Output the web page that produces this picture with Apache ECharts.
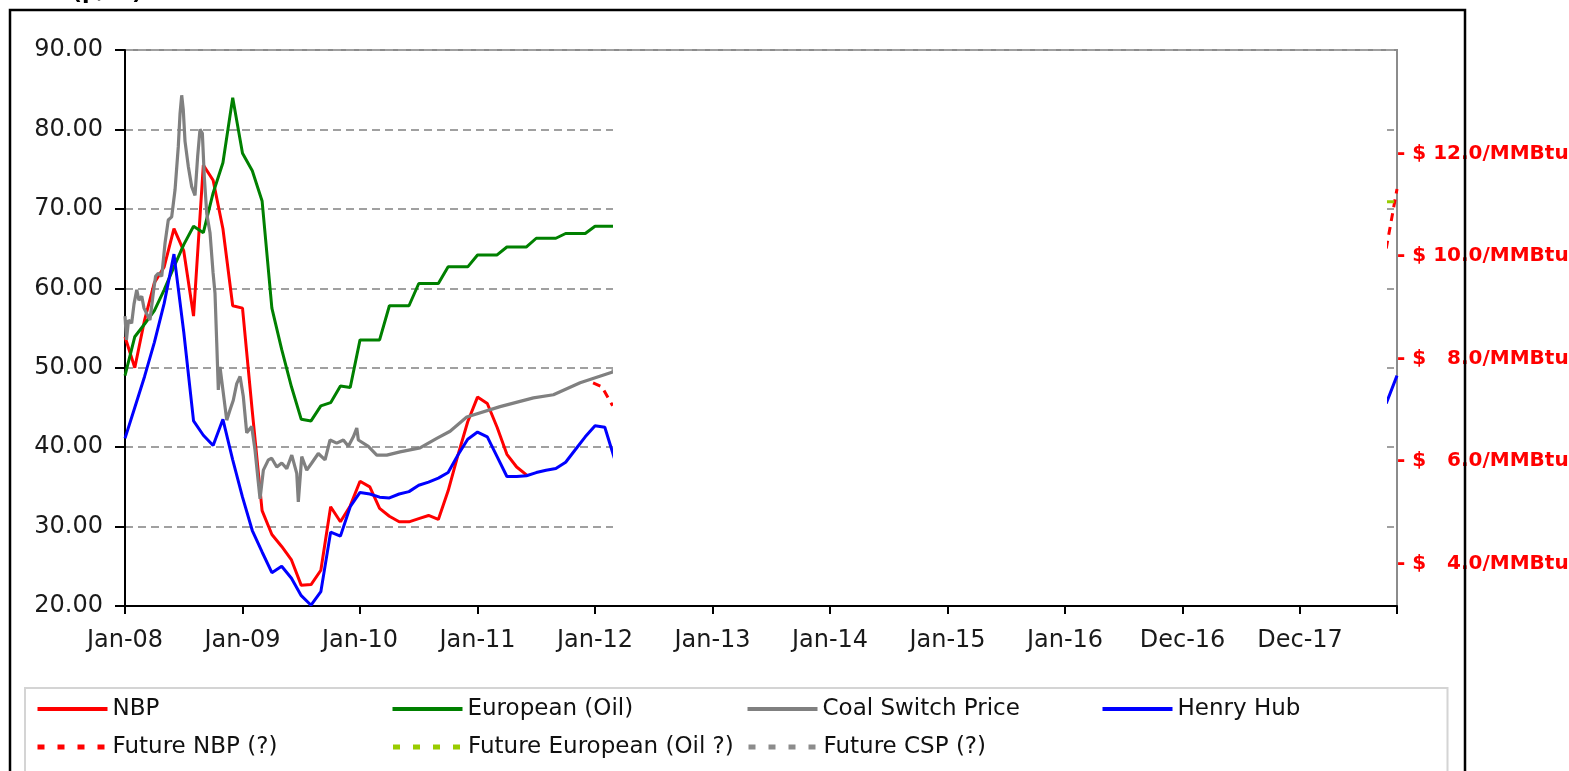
<!DOCTYPE html>
<html>
<head>
<meta charset="utf-8">
<script src="https://cdn.jsdelivr.net/npm/echarts@6/dist/echarts.min.js"></script>
<style>
html,body{margin:0;padding:0;background:#fff;}
#c{width:1569px;height:771px;}
</style>
</head>
<body>
<div id="c"></div>
<script>
// ---------- data (months counted from Jan-08 = 0) ----------
const xTickLabels = ['Jan-08','Jan-09','Jan-10','Jan-11','Jan-12','Jan-13','Jan-14','Jan-15','Jan-16','Dec-16','Dec-17'];
const leftAxisMin = 20, leftAxisMax = 90, leftAxisStep = 10;
const rightTickValues = [4, 6, 8, 10, 12];
const rightAxisMin = 3.17, rightAxisMax = 14.02;
const xMaxMonth = 129.9;

const legendNames = ['NBP','European (Oil)','Coal Switch Price','Henry Hub','Future NBP (?)','Future European (Oil ?)','Future CSP (?)'];

const nbpValues = [53.9,50.0,56.0,60.7,62.7,67.5,64.7,56.5,75.5,73.6,67.5,57.8,57.5,44.5,32.0,29.0,27.5,25.8,22.6,22.7,24.5,32.5,30.6,32.6,35.7,35.0,32.3,31.3,30.6,30.6,31.0,31.4,30.9,34.5,39.0,43.2,46.3,45.5,42.5,39.1,37.5,36.5];

const europeanValues = [49.0,53.9,55.5,57.2,59.8,62.7,65.5,67.8,67.0,72.0,75.8,84.0,77.0,74.8,71.0,57.5,52.3,47.6,43.5,43.3,45.2,45.6,47.7,47.5,53.5,53.5,53.5,57.8,57.8,57.8,60.6,60.6,60.6,62.7,62.7,62.7,64.2,64.2,64.2,65.2,65.2,65.2,66.3,66.3,66.3,66.9,66.9,66.9,67.8,67.8,67.8];

const henryHubValues = [41.1,45.0,48.9,53.2,58.1,64.3,54.5,43.3,41.5,40.2,43.5,38.4,33.7,29.5,26.8,24.2,25.0,23.5,21.3,20.1,21.8,29.3,28.8,32.5,34.3,34.1,33.7,33.6,34.1,34.4,35.2,35.6,36.1,36.8,39.0,41.0,41.9,41.3,38.8,36.3,36.3,36.4,36.8,37.1,37.3,38.1,39.7,41.3,42.7,42.5,38.5];
const henryHubTailMonths = [128.8, 129.9];
const henryHubTailValues = [45.5, 49.0];

const coalMonths = [0,0.15,0.36,0.68,0.92,1.2,1.42,1.71,1.94,2.22,2.55,2.89,3.12,3.4,3.75,4.09,4.42,4.77,5.11,5.44,5.62,5.79,5.95,6.13,6.47,6.81,7.15,7.42,7.66,7.9,8.1,8.35,8.68,8.99,9.19,9.37,9.53,9.7,10.04,10.39,10.73,11.06,11.41,11.75,12.08,12.43,12.94,13.28,13.62,13.79,14.13,14.64,14.98,15.5,16.01,16.52,17.03,17.54,17.7,18.05,18.56,19.07,19.74,20.43,20.94,21.62,22.3,22.81,23.32,23.67,23.83,24.85,25.71,26.73,28.09,30.13,31.84,33.2,34.9,38.3,41.71,43.75,46.48,49.88];
const coalValues = [56.5,53.5,56.0,55.6,58.0,59.8,58.5,59.0,57.5,56.8,56.0,59.4,61.5,61.9,61.5,65.7,68.6,69.0,72.4,77.8,82.0,84.3,82.5,78.5,75.3,72.8,71.7,76.6,80.0,79.5,74.0,69.4,67.0,62.0,59.4,53.1,47.2,50.1,46.8,43.4,44.7,45.9,48.0,48.9,46.4,41.8,42.6,39.6,35.5,33.5,37.1,38.4,38.6,37.5,38.0,37.3,39.0,36.7,33.1,38.8,37.1,38.0,39.2,38.4,40.9,40.5,40.9,40.1,41.3,42.4,40.9,40.1,39.0,39.0,39.4,39.9,41.1,42.0,43.8,45.1,46.2,46.6,48.1,49.5];

const futureNbpMonths = [47.8, 48.7, 49.8, null, 128.8, 129.9];
const futureNbpValues = [48.1, 47.6, 45.2, null, 65.0, 72.5];
const futureEuropeanMonths = [128.8, 129.9];
const futureEuropeanValues = [70.9, 70.9];
const futureCspMonths = [49.7, 51.0];
const futureCspValues = [49.6, 50.0];

// ---------- helpers ----------
function monthly(vals) { return vals.map((v, i) => [i, v]); }
function pairs(ms, vs) { return ms.map((m, i) => (m == null ? '-' : [m, vs[i]])); }

const FONT = 'DejaVu Sans';
const chart = echarts.init(document.getElementById('c'), null, {renderer: 'canvas'});

function lineSeries(name, data, color, type, z, width) {
  return {
    name: name, type: 'line', data: data, symbol: 'none', showSymbol: false,
    xAxisIndex: 0, yAxisIndex: 0, z: z, animation: false, connectNulls: false,
    lineStyle: {color: color, width: width || 3, type: type},
    itemStyle: {color: color}
  };
}

const hiddenSymbol = {opacity: 0, color: 'rgba(0,0,0,0)', borderWidth: 0};

const option = {
  animation: false,
  backgroundColor: '#ffffff',
  grid: {
    left: 125, right: 172, top: 50, bottom: 165,
    show: true, borderColor: '#8c8c8c', borderWidth: 2, backgroundColor: 'transparent',
    containLabel: false, outerBoundsMode: 'none'
  },
  xAxis: {
    type: 'value', min: 0, max: xMaxMonth, interval: 12,
    axisLine: {show: true, lineStyle: {color: '#000', width: 2}},
    axisTick: {show: true, inside: false, length: 8, lineStyle: {color: '#000', width: 2}},
    splitLine: {show: false},
    axisLabel: {
      show: true, margin: 23, fontSize: 24, fontFamily: FONT, color: '#1a1a1a',
      hideOverlap: false,
      formatter: function (v) {
        const i = v / 12;
        return (Number.isInteger(i) && i < xTickLabels.length) ? xTickLabels[i] : '';
      }
    }
  },
  yAxis: [
    {
      type: 'value', position: 'left', min: leftAxisMin, max: leftAxisMax, interval: leftAxisStep,
      axisLine: {show: true, lineStyle: {color: '#000', width: 2}},
      axisTick: {show: true, inside: false, length: 10, lineStyle: {color: '#000', width: 2}},
      splitLine: {show: true, lineStyle: {color: '#a0a0a0', width: 2, type: [8, 5]}},
      axisLabel: {
        margin: 22, fontSize: 24, fontFamily: FONT, color: '#1a1a1a',
        formatter: function (v) { return v.toFixed(2); }
      }
    },
    {
      type: 'value', position: 'right', min: rightAxisMin, max: rightAxisMax,
      axisLine: {show: false}, axisTick: {show: false}, splitLine: {show: false},
      axisLabel: {
        margin: 0, showMinLabel: false, showMaxLabel: false, hideOverlap: false,
        fontSize: 20, fontWeight: 'bold', fontFamily: FONT, color: '#ff0000',
        formatter: function (v) {
          const r = Math.round(v * 1000) / 1000;
          if (rightTickValues.indexOf(r) < 0) return '';
          return '- $ ' + (r < 10 ? '\u2007' : '') + r.toFixed(1) + '/MMBtu';
        }
      }
    }
  ],
  legend: {
    show: true, left: 25, top: 688, width: 1420, orient: 'horizontal',
    padding: [6, 0, 20, 10],
    borderColor: '#d4d4d4', borderWidth: 2, backgroundColor: '#fff',
    itemWidth: 70, itemHeight: 14, itemGap: 8,
    itemStyle: hiddenSymbol,
    textStyle: {fontSize: 23, fontFamily: FONT, color: '#111', width: 270, lineHeight: 30, overflow: 'none'},
    data: [
      {name: legendNames[0], itemStyle: hiddenSymbol, lineStyle: {width: 4}},
      {name: legendNames[1], itemStyle: hiddenSymbol, lineStyle: {width: 4}},
      {name: legendNames[2], itemStyle: hiddenSymbol, lineStyle: {width: 4}},
      {name: legendNames[3], itemStyle: hiddenSymbol, lineStyle: {width: 4}},
      {name: legendNames[4], itemStyle: hiddenSymbol, lineStyle: {width: 5, type: [7, 13]}},
      {name: legendNames[5], itemStyle: hiddenSymbol, lineStyle: {width: 5, type: [7, 13]}},
      {name: legendNames[6], itemStyle: hiddenSymbol, lineStyle: {width: 5, type: [7, 13]}}
    ]
  },
  series: [
    lineSeries(legendNames[0], monthly(nbpValues), '#ff0000', 'solid', 3),
    lineSeries(legendNames[1], monthly(europeanValues), '#008000', 'solid', 3),
    lineSeries(legendNames[2], pairs(coalMonths, coalValues), '#808080', 'solid', 3, 3.2),
    lineSeries(legendNames[3], monthly(henryHubValues).concat(['-'], pairs(henryHubTailMonths, henryHubTailValues)), '#0000ff', 'solid', 4),
    lineSeries(legendNames[4], pairs(futureNbpMonths, futureNbpValues), '#ff0000', [8, 6], 4),
    lineSeries(legendNames[5], pairs(futureEuropeanMonths, futureEuropeanValues), '#99cc00', [8, 6], 4),
    lineSeries(legendNames[6], pairs(futureCspMonths, futureCspValues), '#8c8c8c', [8, 6], 4)
  ],
  graphic: [
    {type: 'rect', silent: true, z: 50, shape: {x: 613, y: 51, width: 774, height: 554}, style: {fill: '#ffffff'}},
    {type: 'rect', silent: true, z: 100, shape: {x: 10, y: 10, width: 1455, height: 790}, style: {fill: 'none', stroke: '#000', lineWidth: 2.5}},
    {type: 'text', silent: true, z: 100, x: 72, y: -18, style: {text: '(p/th)', font: 'bold 22px "DejaVu Sans"', fill: '#000'}}
  ]
};
chart.setOption(option);
</script>
</body>
</html>
